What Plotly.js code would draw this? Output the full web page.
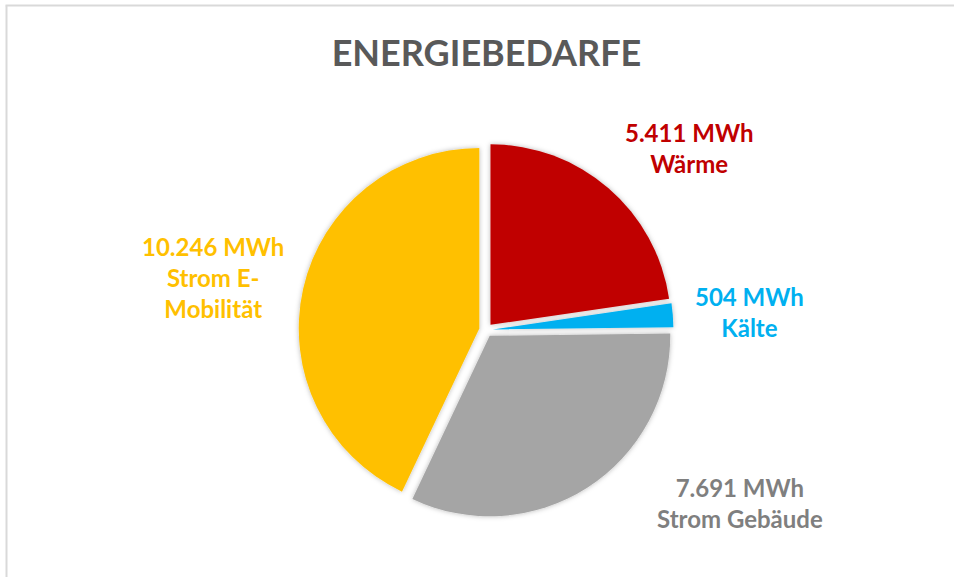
<!DOCTYPE html>
<html>
<head>
<meta charset="utf-8">
<script src="https://cdn.plot.ly/plotly-3.0.1.min.js"></script>
<style>
  html, body { margin: 0; padding: 0; background: #ffffff; }
  #chart { width: 954px; height: 577px; }
  .pielayer { filter: url(#softShadow); }
</style>
</head>
<body>
<svg width="0" height="0" style="position:absolute">
  <defs>
    <filter id="softShadow" x="-10%" y="-10%" width="120%" height="120%">
      <feGaussianBlur in="SourceAlpha" stdDeviation="2.5" result="blur"/>
      <feFlood flood-color="#000000" flood-opacity="0.28"/>
      <feComposite in2="blur" operator="in" result="shadow"/>
      <feMerge>
        <feMergeNode in="shadow"/>
        <feMergeNode in="SourceGraphic"/>
      </feMerge>
    </filter>
  </defs>
</svg>
<div id="chart"></div>
<script>
const categories = ['Wärme', 'Kälte', 'Strom Gebäude', 'Strom E-Mobilität'];
const valuesMWh = [5411, 504, 7691, 10246];
const sliceColors = ['#C00000', '#00B0F0', '#A5A5A5', '#FFC000'];
const labelColors = ['#C00000', '#00B0F0', '#7F7F7F', '#FFC000'];
const unit = 'MWh';
const chartTitle = 'ENERGIEBEDARFE';

function fmtDE(n) {
  return String(n).replace(/\B(?=(\d{3})+(?!\d))/g, '.');
}

// label block centres (paper fractions) – layout only
const labelPos = [
  {x: 688.5 / 954, y: 1 - 148 / 577},
  {x: 749 / 954, y: 1 - 312 / 577},
  {x: 740 / 954, y: 1 - 503 / 577},
  {x: 213 / 954, y: 1 - 277.5 / 577}
];

const annotations = categories.map((c, i) => ({
  text: fmtDE(valuesMWh[i]) + ' ' + unit + '<br>' + c.replace('E-', 'E-<br>'),
  xref: 'paper', yref: 'paper',
  x: labelPos[i].x, y: labelPos[i].y,
  xanchor: 'center', yanchor: 'middle',
  align: 'center',
  showarrow: false,
  font: {family: 'Lato, "Open Sans", sans-serif', size: 24, color: labelColors[i], weight: 'bold'}
}));

const trace = {
  type: 'pie',
  labels: categories,
  values: valuesMWh,
  sort: false,
  direction: 'clockwise',
  rotation: 0,
  pull: valuesMWh.map(() => 0.038),
  marker: {colors: sliceColors, line: {color: '#ffffff', width: 0}},
  textinfo: 'none',
  hoverinfo: 'label+value',
  showlegend: false,
  domain: {x: [298.6 / 954, 673.4 / 954], y: [1 - 517.4 / 577, 1 - 142.6 / 577]}
};

const layout = {
  width: 954,
  height: 577,
  margin: {l: 0, r: 0, t: 0, b: 0},
  paper_bgcolor: '#ffffff',
  plot_bgcolor: '#ffffff',
  showlegend: false,
  title: {
    text: '<b>' + chartTitle + '</b>',
    x: 486.5 / 954, xref: 'paper', xanchor: 'center',
    y: 1 - 53 / 577, yref: 'container', yanchor: 'middle',
    font: {family: 'Lato, "Open Sans", sans-serif', size: 36, color: '#595959'}
  },
  annotations: annotations,
  shapes: [
    {type: 'line', xref: 'paper', yref: 'paper', x0: 6.5 / 954, x1: 6.5 / 954, y0: 0, y1: 1 - 5.5 / 577,
     line: {color: '#D9D9D9', width: 2}},
    {type: 'line', xref: 'paper', yref: 'paper', x0: 5.5 / 954, x1: 1, y0: 1 - 5.5 / 577, y1: 1 - 5.5 / 577,
     line: {color: '#D9D9D9', width: 2}}
  ]
};

Plotly.newPlot('chart', [trace], layout, {displayModeBar: false, staticPlot: true});
</script>
</body>
</html>
